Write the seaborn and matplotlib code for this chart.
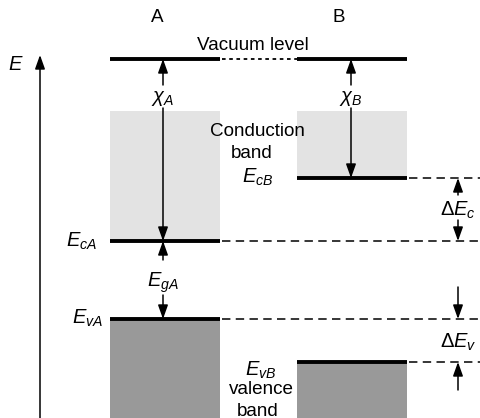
import matplotlib
matplotlib.use("Agg")
import matplotlib.pyplot as plt
import seaborn as sns

# Energy levels (arbitrary units, up = higher energy)
materials = ["A", "B"]
vacuum_level = [359, 359]
cond_band_top = [307, 307]
cond_edge = [177, 240]
val_edge = [99, 56]
col_left = [110, 297]
col_right = [220, 407]

sns.set_theme(style="white")
plt.rcParams["font.family"] = ["Liberation Sans", "DejaVu Sans"]
plt.rcParams["text.color"] = "black"
plt.rcParams["mathtext.fontset"] = "custom"
plt.rcParams["mathtext.rm"] = "Liberation Sans"
plt.rcParams["mathtext.it"] = "Liberation Sans:italic"

fig = plt.figure(figsize=(4.8, 4.18), dpi=100)
ax = fig.add_axes([0, 0, 1, 1])
ax.set_xlim(0, 480)
ax.set_ylim(0, 418)
ax.axis("off")

fs = 13.6   # plain text
fm = 14.5   # symbols
light, dark = "#e3e3e3", "#999999"


def arrow(x, y0, y1):
    ax.annotate("", xy=(x, y1), xytext=(x, y0),
                arrowprops=dict(arrowstyle="-|>,head_length=0.7,head_width=0.25",
                                color="black", lw=1.1, shrinkA=0, shrinkB=0))


def label(x, y, s, size=fs):
    ax.text(x, y, s, ha="center", va="center", fontsize=size, color="black")


for i, m in enumerate(materials):
    l, r = col_left[i], col_right[i]
    ax.fill_between([l, r], cond_edge[i], cond_band_top[i], color=light, lw=0)
    ax.fill_between([l, r], 0, val_edge[i], color=dark, lw=0)
    for e in (vacuum_level[i], cond_edge[i], val_edge[i]):
        ax.plot([l, r], [e, e], color="black", lw=2.8, solid_capstyle="butt")
label(157, 401, materials[0])
label(339, 401, materials[1])

# vacuum dotted connection
ax.plot([col_right[0] + 2, col_left[1]], [vacuum_level[0]] * 2, color="black",
        lw=1.3, ls=(0, (2, 2)))
# dashed extensions
dash = (0, (5.5, 3.5))
for i in range(2):
    x0 = col_right[i] + 2
    ax.plot([x0, 480], [cond_edge[i]] * 2, color="black", lw=1.1, ls=dash)
    ax.plot([x0, 480], [val_edge[i]] * 2, color="black", lw=1.1, ls=dash)

# energy axis
arrow(40, 0, 363)
label(16, 353, "$E$", fm)

# electron affinities
xa, xb = 163, 351
arrow(xa, 333, vacuum_level[0])
arrow(xa, 310, cond_edge[0])
label(xa, 320, r"$\chi_A$", fm)
arrow(xb, 333, vacuum_level[1])
arrow(xb, 310, cond_edge[1])
label(xb, 320, r"$\chi_B$", fm)

# band gap of A
arrow(xa, 158, cond_edge[0])
arrow(xa, 123, val_edge[0])
label(xa, 135, r"$E_{gA}$", fm)

# offsets
xo = 458
arrow(xo, 223, cond_edge[1])
arrow(xo, 198, cond_edge[0])
label(xo, 208, r"$\Delta E_c$", fm)
arrow(xo, 131, val_edge[0])
arrow(xo, 28, val_edge[1])
label(xo, 76, r"$\Delta E_v$", fm)

# band labels
label(253, 373, "Vacuum level")
label(257, 286, "Conduction")
label(252, 265, "band")
label(258, 241, r"$E_{cB}$", fm)
label(82, 177, r"$E_{cA}$", fm)
label(88, 100, r"$E_{vA}$", fm)
label(261, 48, r"$E_{vB}$", fm)
label(261, 28, "valence")
label(258, 7, "band")

fig.savefig("out.png", dpi=100)
